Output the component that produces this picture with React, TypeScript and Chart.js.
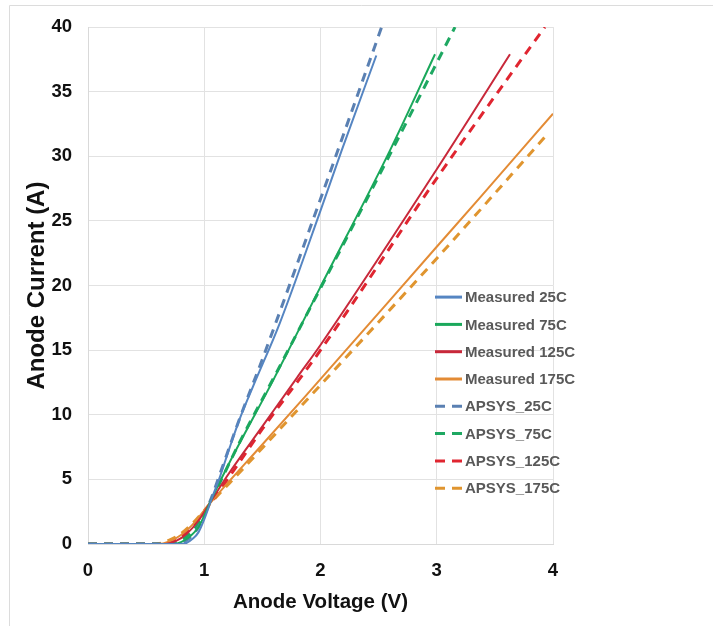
import React, { useEffect, useRef } from "react";
import { Chart, registerables } from "chart.js";

Chart.register(...registerables);

const FONT = "'Liberation Sans', Arial, sans-serif";

// Tick values
const xTickValues = [0, 1, 2, 3, 4];
const yTickValues = [0, 5, 10, 15, 20, 25, 30, 35, 40];

// Series names
const seriesNames = [
  "Measured 25C",
  "Measured 75C",
  "Measured 125C",
  "Measured 175C",
  "APSYS_25C",
  "APSYS_75C",
  "APSYS_125C",
  "APSYS_175C",
];

// Measured 25C
const vMeas25 = [0, 0.78, 0.85, 0.9, 0.95, 1.0, 1.064, 1.135, 1.22, 1.31, 1.42, 1.65, 2.0, 2.18, 2.48];
const iMeas25 = [0, 0, 0.1, 0.4, 0.9, 1.9, 3.5, 5.2, 7.5, 9.8, 12.2, 17.1, 25.8, 30.4, 37.8];
// Measured 75C
const vMeas75 = [0, 0.72, 0.8, 0.88, 0.95, 1.0, 1.064, 1.2, 1.6, 2.0, 2.6, 2.985];
const iMeas75 = [0, 0, 0.15, 0.6, 1.3, 2.2, 3.5, 6.0, 12.8, 19.9, 30.5, 37.9];
// Measured 125C
const vMeas125 = [0, 0.66, 0.75, 0.85, 0.95, 1.064, 1.2, 1.5, 1.8, 2.0, 3.0, 3.63];
const iMeas125 = [0, 0, 0.2, 0.8, 1.8, 3.4, 5.3, 9.1, 12.9, 15.4, 29.0, 37.9];
// Measured 175C
const vMeas175 = [0, 0.6, 0.7, 0.8, 0.9, 1.0, 1.064, 1.2, 1.5, 1.867, 3.0, 3.372, 4.0];
const iMeas175 = [0, 0, 0.2, 0.7, 1.5, 2.6, 3.3, 4.7, 7.7, 11.4, 23.0, 26.8, 33.3];
// APSYS 25C
const vSim25 = [0, 0.75, 0.85, 0.95, 1.05, 1.15, 1.3, 1.5, 2.0, 2.526];
const iSim25 = [0, 0, 0.3, 1.3, 3.3, 5.8, 9.6, 14.3, 26.7, 40];
// APSYS 75C
const vSim75 = [0, 0.7, 0.8, 0.9, 1.0, 1.1, 1.3, 1.6, 2.0, 2.6, 3.157];
const iSim75 = [0, 0, 0.3, 1.0, 2.3, 4.1, 7.8, 12.9, 19.8, 30.2, 40];
// APSYS 125C
const vSim125 = [0, 0.65, 0.75, 0.85, 0.95, 1.05, 1.2, 1.5, 2.0, 3.0, 3.56, 3.93];
const iSim125 = [0, 0, 0.3, 0.9, 1.9, 3.1, 5.0, 8.9, 15.0, 28.3, 35.4, 40];
// APSYS 175C
const vSim175 = [0, 0.58, 0.7, 0.8, 0.9, 1.0, 1.1, 1.3, 1.6, 2.0, 3.0, 3.96];
const iSim175 = [0, 0, 0.3, 0.8, 1.6, 2.6, 3.6, 5.5, 8.4, 12.3, 22.1, 31.8];

const seriesV = [vMeas25, vMeas75, vMeas125, vMeas175, vSim25, vSim75, vSim125, vSim175];
const seriesI = [iMeas25, iMeas75, iMeas125, iMeas175, iSim25, iSim75, iSim125, iSim175];
const seriesColors = [
  "#5585c2",
  "#1aa85b",
  "#c8283a",
  "#e38b35",
  "#5a80b2",
  "#1ea862",
  "#e02530",
  "#e0952f",
];
const seriesDashed = [false, false, false, false, true, true, true, true];

const frameAndLegend = {
  id: "frameAndLegend",
  beforeDraw(chart: any) {
    const ctx = chart.ctx;
    ctx.save();
    ctx.fillStyle = "#ffffff";
    ctx.fillRect(0, 0, chart.width, chart.height);
    ctx.strokeStyle = "#dcdcdc";
    ctx.lineWidth = 1;
    ctx.beginPath();
    ctx.moveTo(9.5, chart.height);
    ctx.lineTo(9.5, 5.5);
    ctx.lineTo(chart.width, 5.5);
    ctx.stroke();
    ctx.restore();
  },
  afterDraw(chart: any) {
    const ctx = chart.ctx;
    const area = chart.chartArea;
    const x0 = area.right - 118;
    const y0 = area.top + 270;
    const step = 27.3;
    ctx.save();
    chart.data.datasets.forEach((ds: any, i: number) => {
      const y = y0 + i * step;
      ctx.strokeStyle = ds.borderColor;
      ctx.lineWidth = 3;
      ctx.setLineDash(ds.borderDash && ds.borderDash.length ? [10, 7] : []);
      ctx.beginPath();
      ctx.moveTo(x0, y);
      ctx.lineTo(x0 + 27, y);
      ctx.stroke();
      ctx.setLineDash([]);
      ctx.fillStyle = "#595959";
      ctx.font = `bold 15px ${FONT}`;
      ctx.textBaseline = "middle";
      ctx.textAlign = "left";
      ctx.fillText(ds.label, x0 + 30, y + 1);
    });
    ctx.restore();
  },
};

export default function App() {
  const ref = useRef<HTMLCanvasElement | null>(null);

  useEffect(() => {
    if (!ref.current) return;
    const datasets = seriesNames.map((name, k) => ({
      label: name,
      data: seriesV[k].map((v, j) => ({ x: v, y: seriesI[k][j] })),
      borderColor: seriesColors[k],
      backgroundColor: seriesColors[k],
      borderWidth: seriesDashed[k] ? 3 : 2,
      borderDash: seriesDashed[k] ? [9, 7] : [],
      pointRadius: 0,
      fill: false,
      cubicInterpolationMode: "monotone" as const,
    }));

    const chart = new Chart(ref.current, {
      type: "line",
      data: { datasets },
      options: {
        animation: false,
        responsive: false,
        maintainAspectRatio: false,
        layout: { padding: { left: 18, top: 26, right: 160, bottom: 0 } },
        plugins: {
          legend: { display: false },
          tooltip: { enabled: false },
        },
        scales: {
          x: {
            type: "linear",
            min: 0,
            max: 4,
            afterBuildTicks: (s: any) => {
              s.ticks = xTickValues.map((v) => ({ value: v }));
            },
            afterFit: (s: any) => {
              s.height = 82;
            },
            grid: { color: "#e2e2e2", drawTicks: false, lineWidth: 1 },
            border: { display: true, color: "#d9d9d9" },
            ticks: {
              color: "#111",
              font: { family: FONT, size: 18.5, weight: "bold" },
              padding: 16,
            },
            title: {
              display: true,
              text: "Anode Voltage (V)",
              color: "#111",
              font: { family: FONT, size: 20.5, weight: "bold" },
              padding: { top: 0, bottom: 11 },
            },
          },
          y: {
            type: "linear",
            min: 0,
            max: 40,
            afterBuildTicks: (s: any) => {
              s.ticks = yTickValues.map((v) => ({ value: v }));
            },
            afterFit: (s: any) => {
              s.width = 70;
            },
            grid: { color: "#e2e2e2", drawTicks: false, lineWidth: 1 },
            border: { display: true, color: "#d9d9d9" },
            ticks: {
              color: "#111",
              font: { family: FONT, size: 18.5, weight: "bold" },
              padding: 16,
            },
            title: {
              display: true,
              text: "Anode Current (A)",
              color: "#111",
              font: { family: FONT, size: 24, weight: "bold" },
              padding: { top: 5, bottom: 0 },
            },
          },
        },
      },
      plugins: [frameAndLegend],
    });
    return () => chart.destroy();
  }, []);

  return (
    <div style={{ position: "absolute", left: 0, top: 0, width: 713, height: 626, background: "#fff" }}>
      <canvas ref={ref} width={713} height={626} style={{ display: "block" }} />
    </div>
  );
}
